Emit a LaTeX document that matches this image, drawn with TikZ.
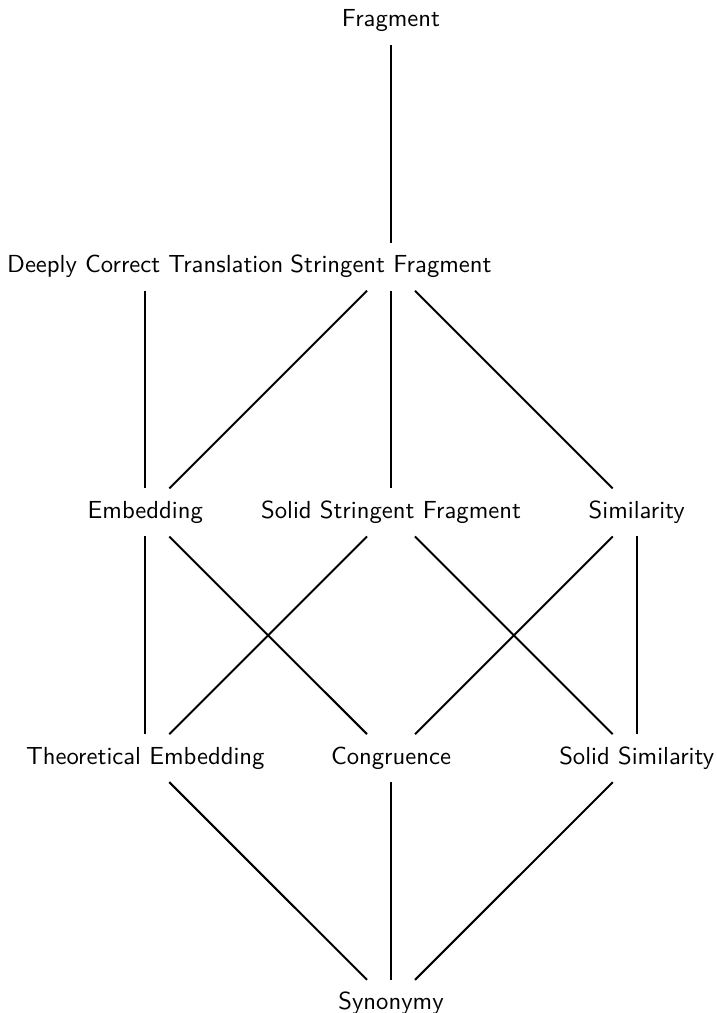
\documentclass[tikz,border=0pt]{standalone}
\usepackage{tikz}
\usetikzlibrary{positioning}

\begin{document}
\begin{tikzpicture}[x=3.5cm,y=3.5cm,
  every node/.style={font=\sffamily,text height=8.4pt,text depth=3.6pt},
  every path/.style={thick}]
\useasboundingbox (-5.57cm,-0.13cm) rectangle (4.64cm,14.3cm);
\node (frag) at (0,4) {Fragment};
\node (dct) at (-1,3) {Deeply Correct Translation};
\node (sf) at (0,3) {Stringent Fragment};
\node (emb) at (-1,2) {Embedding};
\node (ssf) at (0,2) {Solid Stringent Fragment};
\node (sim) at (1,2) {Similarity};
\node (temb) at (-1,1) {Theoretical Embedding};
\node (cong) at (0,1) {Congruence};
\node (ssim) at (1,1) {Solid Similarity};
\node (syn) at (0,0) {Synonymy};
\draw (frag) -- (sf);
\draw (dct) -- (emb);
\foreach \b in {emb,ssf,sim} {
\draw (sf) -- (\b);
}
\draw (emb) -- (temb);
\draw (emb) -- (cong);
\draw (ssf) -- (temb);
\draw (ssf) -- (ssim);
\draw (sim) -- (cong);
\draw (sim) -- (ssim);
\foreach \a in {temb,cong,ssim} {
\draw (\a) -- (syn);
}
\end{tikzpicture}
\end{document}
